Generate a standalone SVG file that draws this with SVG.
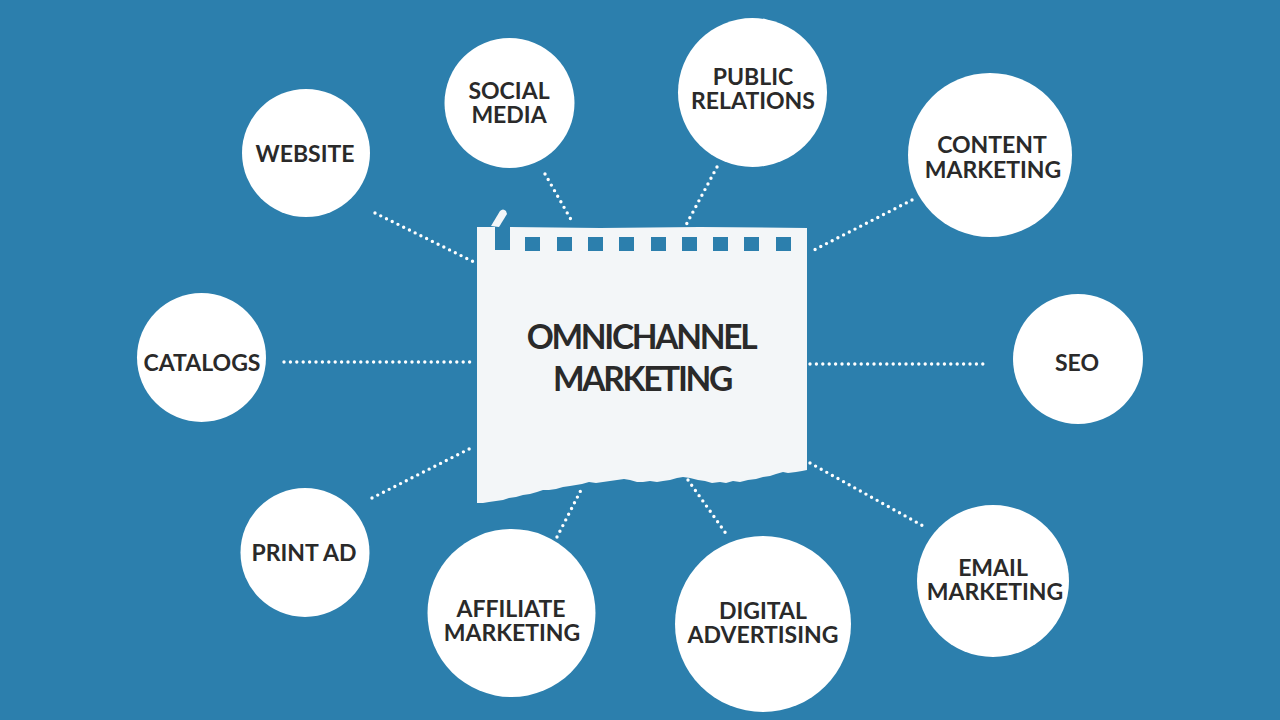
<svg xmlns="http://www.w3.org/2000/svg" width="1280" height="720" viewBox="0 0 1280 720">
<style>
.bg{fill:#2c7fad}
.node circle{fill:#ffffff}
.node text,.center text{font-family:Lato,"Liberation Sans",sans-serif;font-weight:700;fill:#2a2a2a;text-anchor:middle}
.node text{font-size:23px}
.center text{font-size:33.5px;letter-spacing:-2.3px}
.paper{fill:#f3f6f8}
.hole{fill:#2c7fad}
#connectors line{stroke:#ffffff;stroke-width:3.4;stroke-linecap:round;stroke-dasharray:0 6.4;fill:none}
</style>
<rect class="bg" x="0" y="0" width="1280" height="720"/>
<g id="connectors">
<line x1="375" y1="213" x2="476" y2="263"/>
<line x1="545" y1="174" x2="573" y2="223"/>
<line x1="717" y1="167" x2="686" y2="225"/>
<line x1="912" y1="200" x2="812" y2="251"/>
<line x1="284" y1="362" x2="474" y2="362"/>
<line x1="810" y1="364" x2="988" y2="364"/>
<line x1="372" y1="498" x2="473" y2="447"/>
<line x1="557" y1="537" x2="581" y2="490"/>
<line x1="688" y1="480" x2="727" y2="535"/>
<line x1="810" y1="463" x2="925" y2="527"/>
</g>
<g id="center" class="center">
<path class="paper" d="M477,227 L495,227 L495,250 L510,250 L510,227 L600,228 L700,227 L807,228 L807,470 L802,471 L796,472 L788,473 L783,472 L776,474 L770,476 L763,477 L756,479 L748,480 L740,482 L733,481 L726,483 L720,482 L712,483 L705,481 L698,480 L690,478 L683,477 L677,478 L670,480 L663,481 L657,482 L650,481 L643,482 L637,482 L630,480 L624,479 L617,480 L610,481 L603,482 L596,483 L589,482 L582,484 L576,485 L570,486 L563,487 L556,489 L549,490 L543,490 L537,492 L530,494 L523,495 L516,497 L509,498 L503,500 L496,501 L489,502 L483,503 L477,503 Z"/>
<path class="paper" d="M491,226 L500,211 Q503,208 506,211 L507,214 L499,227 Z"/>
<rect class="hole" x="525" y="237" width="15" height="14"/>
<rect class="hole" x="557" y="237" width="15" height="14"/>
<rect class="hole" x="588" y="237" width="15" height="14"/>
<rect class="hole" x="619" y="237" width="15" height="14"/>
<rect class="hole" x="651" y="237" width="15" height="14"/>
<rect class="hole" x="682" y="237" width="15" height="14"/>
<rect class="hole" x="713" y="237" width="15" height="14"/>
<rect class="hole" x="744" y="237" width="15" height="14"/>
<rect class="hole" x="776" y="237" width="15" height="14"/>
<text x="641" y="349">OMNICHANNEL</text>
<text x="642" y="391">MARKETING</text>
</g>
<g id="website" class="node"><circle cx="306" cy="153" r="64"/><text x="305" y="162">WEBSITE</text></g>
<g id="social-media" class="node"><circle cx="509.5" cy="103" r="65"/><text x="509" y="99">SOCIAL</text><text x="509" y="123">MEDIA</text></g>
<g id="public-relations" class="node"><circle cx="752.5" cy="92.5" r="74.5"/><text x="753" y="85">PUBLIC</text><text x="753" y="109">RELATIONS</text></g>
<g id="content-marketing" class="node"><circle cx="990" cy="155" r="82"/><text x="992" y="153">CONTENT</text><text x="993" y="178">MARKETING</text></g>
<g id="catalogs" class="node"><circle cx="201.5" cy="357.5" r="64.5"/><text x="202" y="371">CATALOGS</text></g>
<g id="seo" class="node"><circle cx="1078" cy="359" r="65"/><text x="1077" y="371">SEO</text></g>
<g id="print-ad" class="node"><circle cx="305" cy="552.5" r="64.5"/><text x="304" y="561">PRINT AD</text></g>
<g id="affiliate-marketing" class="node"><circle cx="511.5" cy="613" r="84"/><text x="511" y="617">AFFILIATE</text><text x="512" y="641">MARKETING</text></g>
<g id="digital-advertising" class="node"><circle cx="763" cy="624" r="88"/><text x="763" y="619">DIGITAL</text><text x="763" y="643">ADVERTISING</text></g>
<g id="email-marketing" class="node"><circle cx="993" cy="581" r="76"/><text x="993" y="576">EMAIL</text><text x="995" y="600">MARKETING</text></g>
</svg>
